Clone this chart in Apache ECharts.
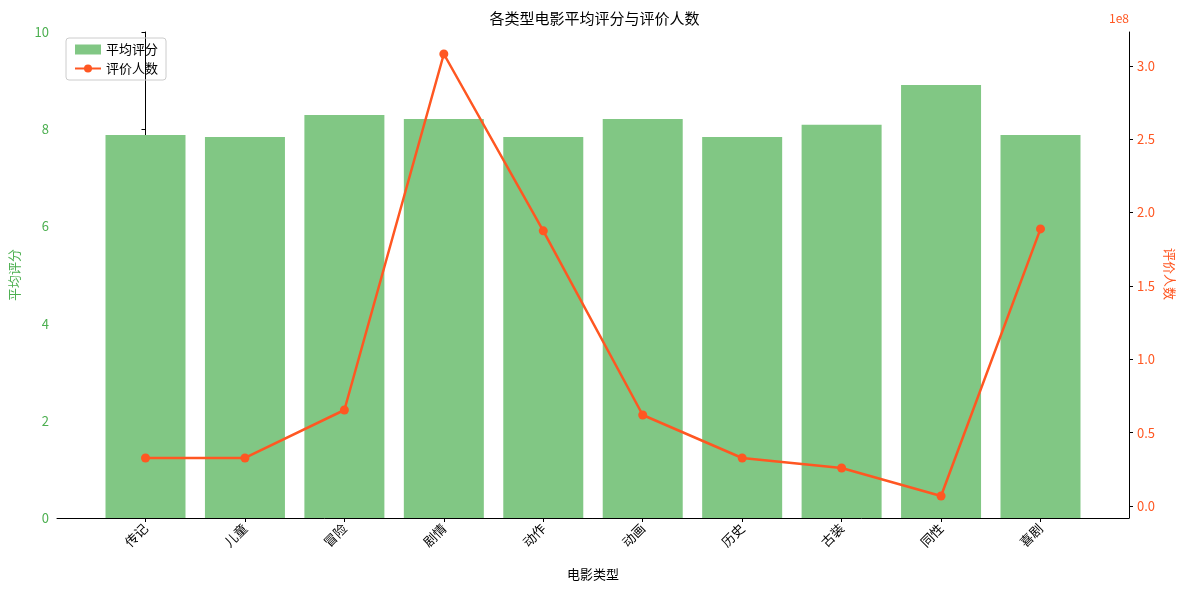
<!DOCTYPE html><html><head><meta charset="utf-8">
<script src="https://cdn.jsdelivr.net/npm/echarts@6/dist/echarts.min.js"></script>
<style>html,body{margin:0;padding:0;background:#fff}#c{width:1189px;height:590px}</style></head>
<body><div id="c"></div><script>
const categories=['传记','儿童','冒险','剧情','动作','动画','历史','古装','同性','喜剧'];
const avgScore=[7.88,7.84,8.29,8.21,7.84,8.21,7.84,8.09,8.91,7.88];
const voteCount=[32700000,32700000,65400000,308000000,187500000,62000000,32700000,25900000,6800000,188800000];
const rightTicks=[0,0.5e8,1e8,1.5e8,2e8,2.5e8,3e8];
const leftTicks=[0,2,4,6,8,10];
const F='Noto Sans CJK SC';
const chart=echarts.init(document.getElementById('c'));
chart.setOption({
 animation:false,
 textStyle:{fontFamily:F},
 title:{text:'各类型电影平均评分与评价人数',left:'center',top:6,textStyle:{fontSize:15,fontWeight:'normal',color:'#000',fontFamily:F}},
 legend:{left:66,top:38,orient:'vertical',itemGap:6,borderColor:'#ccc',borderWidth:1,borderRadius:3,padding:[5,8],
  textStyle:{fontSize:13,color:'#000'},
  data:[{name:'平均评分',icon:'rect',itemStyle:{color:'#81c784'}},{name:'评价人数'}],itemWidth:26,itemHeight:10},
 grid:{left:57,right:60,top:32,bottom:72},
 xAxis:{type:'value',min:-0.89,max:9.89,name:'电影类型',nameLocation:'middle',nameGap:50,nameTextStyle:{color:'#000',fontSize:13},
  axisLine:{lineStyle:{color:'#000'}},axisTick:{customValues:categories.map((_,i)=>i),length:4},splitLine:{show:false},
  axisLabel:{customValues:categories.map((_,i)=>i),rotate:45,color:'#000',fontSize:13,formatter:v=>categories[Math.round(v)]}},
 yAxis:[
  {type:'value',min:0,max:10,interval:2,name:'平均评分',nameLocation:'middle',nameGap:36,nameTextStyle:{color:'#4caf50',fontSize:13},
   axisLine:{show:true,lineStyle:{color:'#000'}},axisTick:{show:true,length:4},splitLine:{show:false},
   axisLabel:{color:'#4caf50',fontSize:13}},
  {type:'value',min:-0.082e8,max:3.23e8,name:'1e8',nameLocation:'end',nameGap:8,nameTextStyle:{color:'#ff5722',fontSize:12,align:'left',padding:[0,0,0,-20]},
   axisLine:{show:true,lineStyle:{color:'#000'}},axisTick:{show:true,length:4,customValues:rightTicks},splitLine:{show:false},
   axisLabel:{color:'#ff5722',fontSize:13,customValues:rightTicks,formatter:v=>(v/1e8).toFixed(1)}}
 ],
 graphic:[{type:'text',left:1163,top:248,rotation:-Math.PI/2,style:{text:'评价人数',fill:'#ff5722',font:'13px "Noto Sans CJK SC"'}}],
 series:[
  {name:'平均评分',type:'bar',yAxisIndex:0,barWidth:80,itemStyle:{color:'#81c784'},data:avgScore.map((v,i)=>[i,v])},
  {name:'评价人数',type:'line',yAxisIndex:1,symbol:'circle',symbolSize:9,lineStyle:{width:2.5,color:'#ff5722'},itemStyle:{color:'#ff5722'},data:voteCount.map((v,i)=>[i,v])}
 ]
});
</script></body></html>
